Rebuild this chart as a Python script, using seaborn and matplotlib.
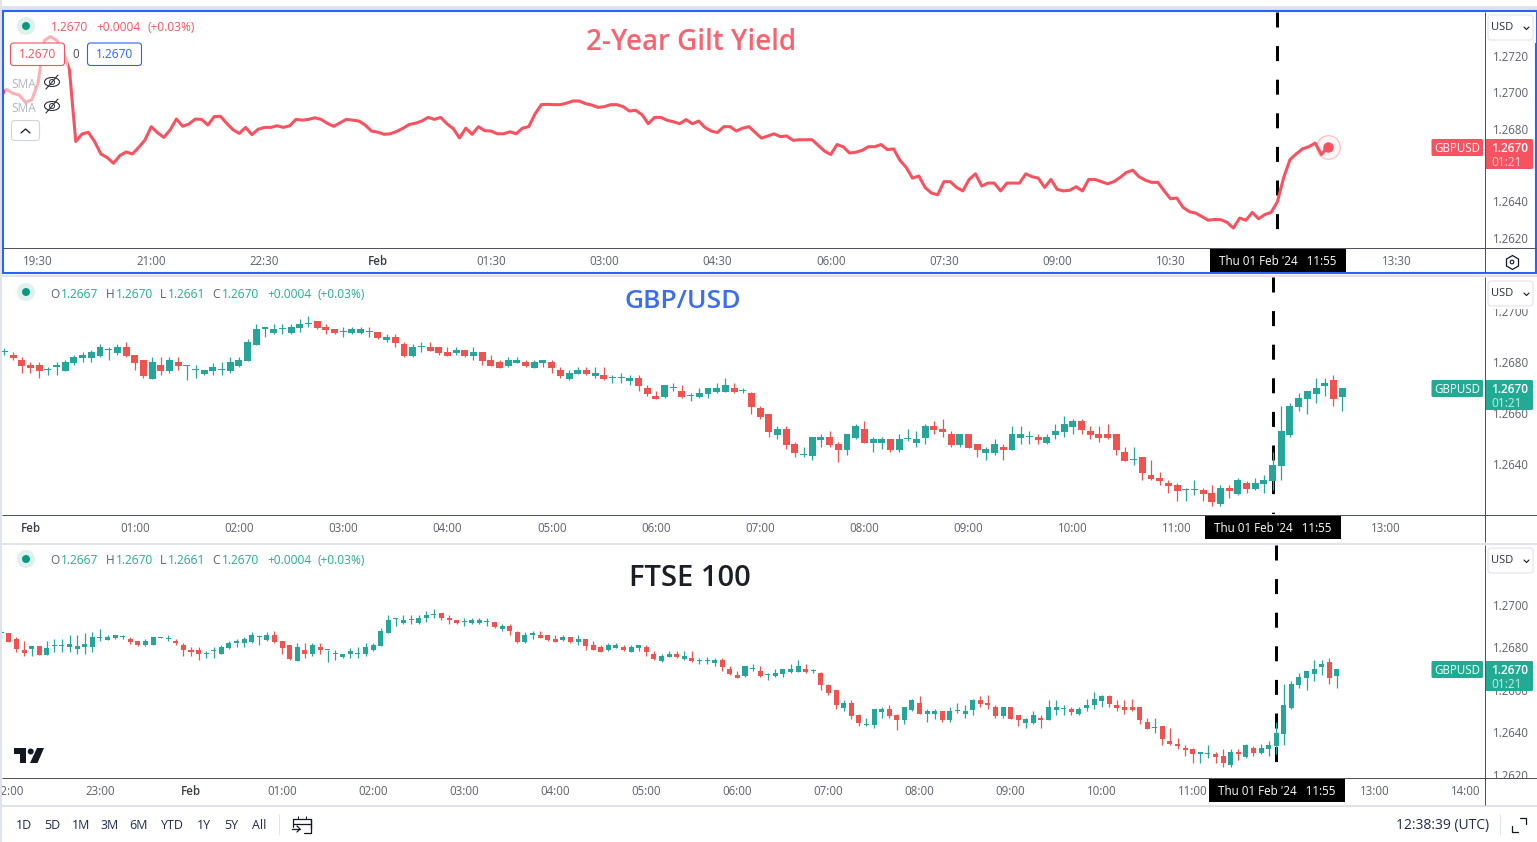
import numpy as np
import pandas as pd
import matplotlib
matplotlib.use('Agg')
import matplotlib.pyplot as plt
from matplotlib.patches import Rectangle, FancyBboxPatch, Circle, Ellipse, Polygon
import seaborn as sns

# ---- data: GBPUSD 5 min bars ----
# closes for the part of the line that has no candle on screen (19:00 - 21:50)
line_early = [1.26975, 1.27015, 1.26993, 1.26984, 1.26944, 1.26957, 1.27048, 1.27283, 1.27305,
              1.27283, 1.27222, 1.27121, 1.26729, 1.26770, 1.26779, 1.26728, 1.26660, 1.26640,
              1.26609, 1.26651, 1.26671, 1.26660, 1.26696, 1.26737, 1.26810, 1.26777, 1.26751,
              1.26792, 1.26852, 1.26812, 1.26825, 1.26852, 1.26850, 1.26819, 1.26865]

# candles 21:55 - 12:35
opens = [1.26867, 1.26867, 1.26840, 1.26788, 1.26793, 1.26806, 1.26766, 1.26806, 1.26806, 1.26802,
         1.26793, 1.26802, 1.26802, 1.26846, 1.26837, 1.26846, 1.26850, 1.26840, 1.26831, 1.26812,
         1.26812, 1.26846,
         1.26841, 1.26829, 1.26810, 1.26790, 1.26790, 1.26771, 1.26784, 1.26768, 1.26799, 1.26819,
         1.26819, 1.26827, 1.26850, 1.26837, 1.26861, 1.26829, 1.26810, 1.26737, 1.26790, 1.26768,
         1.26802, 1.26786, 1.26771, 1.26756, 1.26768, 1.26771, 1.26768, 1.26788, 1.26807, 1.26870,
         1.26933, 1.26916, 1.26931, 1.26916, 1.26937, 1.26951, 1.26963, 1.26939, 1.26931, 1.26920,
         1.26916, 1.26916, 1.26920, 1.26920, 1.26888, 1.26900, 1.26873, 1.26826, 1.26861, 1.26861,
         1.26861, 1.26841, 1.26837, 1.26849, 1.26826, 1.26841, 1.26810, 1.26802, 1.26786, 1.26798,
         1.26802, 1.26778, 1.26798, 1.26802, 1.26771, 1.26735, 1.26755, 1.26771, 1.26747, 1.26751,
         1.26738, 1.26738, 1.26727, 1.26739, 1.26700, 1.26669, 1.26665, 1.26699, 1.26688, 1.26670,
         1.26665, 1.26676, 1.26684, 1.26684, 1.26700, 1.26688, 1.26680, 1.26622, 1.26598, 1.26516,
         1.26539, 1.26480, 1.26436, 1.26433, 1.26496, 1.26508, 1.26480, 1.26457, 1.26504, 1.26539,
         1.26484, 1.26484, 1.26500, 1.26457, 1.26500, 1.26484, 1.26504, 1.26551, 1.26539, 1.26520,
         1.26476, 1.26520, 1.26480, 1.26445, 1.26445, 1.26469, 1.26457, 1.26504, 1.26508, 1.26508,
         1.26484, 1.26516, 1.26527, 1.26547, 1.26571, 1.26531, 1.26520, 1.26520, 1.26520, 1.26449,
         1.26418, 1.26429, 1.26359, 1.26347, 1.26327, 1.26320, 1.26300, 1.26299, 1.26300, 1.26288,
         1.26245, 1.26308, 1.26284, 1.26327, 1.26304, 1.26323, 1.26335, 1.26394, 1.26516, 1.26625,
         1.26657, 1.26676, 1.26708, 1.26731, 1.26665]
highs = [1.26884, 1.26867, 1.26850, 1.26829, 1.26806, 1.26806, 1.26829, 1.26840, 1.26840, 1.26859,
         1.26859, 1.26868, 1.26875, 1.26887, 1.26859, 1.26859, 1.26859, 1.26850, 1.26831, 1.26840,
         1.26850, 1.26850,
         1.26858, 1.26841, 1.26822, 1.26801, 1.26801, 1.26782, 1.26801, 1.26810, 1.26829, 1.26841,
         1.26849, 1.26873, 1.26861, 1.26873, 1.26880, 1.26829, 1.26810, 1.26822, 1.26822, 1.26822,
         1.26822, 1.26790, 1.26790, 1.26771, 1.26798, 1.26801, 1.26822, 1.26822, 1.26892, 1.26951,
         1.26939, 1.26951, 1.26951, 1.26951, 1.26971, 1.26982, 1.26963, 1.26951, 1.26931, 1.26939,
         1.26939, 1.26939, 1.26939, 1.26920, 1.26912, 1.26912, 1.26880, 1.26873, 1.26880, 1.26880,
         1.26861, 1.26861, 1.26861, 1.26849, 1.26861, 1.26841, 1.26829, 1.26810, 1.26822, 1.26822,
         1.26810, 1.26810, 1.26810, 1.26810, 1.26782, 1.26771, 1.26782, 1.26782, 1.26782, 1.26782,
         1.26751, 1.26757, 1.26751, 1.26751, 1.26712, 1.26688, 1.26712, 1.26720, 1.26712, 1.26680,
         1.26700, 1.26700, 1.26720, 1.26739, 1.26720, 1.26700, 1.26684, 1.26629, 1.26598, 1.26551,
         1.26551, 1.26488, 1.26469, 1.26508, 1.26520, 1.26531, 1.26488, 1.26520, 1.26559, 1.26571,
         1.26508, 1.26508, 1.26500, 1.26520, 1.26539, 1.26531, 1.26559, 1.26571, 1.26578, 1.26531,
         1.26520, 1.26520, 1.26480, 1.26469, 1.26500, 1.26480, 1.26551, 1.26551, 1.26531, 1.26520,
         1.26520, 1.26559, 1.26590, 1.26578, 1.26578, 1.26551, 1.26551, 1.26559, 1.26520, 1.26469,
         1.26469, 1.26429, 1.26418, 1.26371, 1.26339, 1.26327, 1.26308, 1.26339, 1.26308, 1.26320,
         1.26320, 1.26320, 1.26347, 1.26335, 1.26347, 1.26359, 1.26449, 1.26629, 1.26641, 1.26680,
         1.26688, 1.26739, 1.26739, 1.26751, 1.26700]
lows = [1.26842, 1.26828, 1.26780, 1.26761, 1.26761, 1.26766, 1.26766, 1.26780, 1.26780, 1.26780,
        1.26771, 1.26771, 1.26780, 1.26831, 1.26834, 1.26840, 1.26840, 1.26818, 1.26809, 1.26809,
        1.26812, 1.26843,
        1.26829, 1.26811, 1.26760, 1.26760, 1.26741, 1.26752, 1.26752, 1.26768, 1.26792, 1.26802,
        1.26802, 1.26822, 1.26811, 1.26829, 1.26822, 1.26771, 1.26741, 1.26737, 1.26751, 1.26760,
        1.26771, 1.26733, 1.26741, 1.26752, 1.26752, 1.26752, 1.26760, 1.26784, 1.26807, 1.26870,
        1.26901, 1.26912, 1.26912, 1.26912, 1.26920, 1.26939, 1.26931, 1.26912, 1.26912, 1.26900,
        1.26912, 1.26912, 1.26900, 1.26892, 1.26880, 1.26861, 1.26822, 1.26822, 1.26841, 1.26845,
        1.26829, 1.26826, 1.26829, 1.26822, 1.26810, 1.26790, 1.26786, 1.26778, 1.26782, 1.26798,
        1.26782, 1.26778, 1.26782, 1.26759, 1.26739, 1.26731, 1.26755, 1.26751, 1.26739, 1.26731,
        1.26720, 1.26720, 1.26712, 1.26688, 1.26669, 1.26657, 1.26661, 1.26688, 1.26661, 1.26649,
        1.26661, 1.26661, 1.26680, 1.26684, 1.26680, 1.26680, 1.26598, 1.26578, 1.26508, 1.26500,
        1.26461, 1.26429, 1.26429, 1.26418, 1.26469, 1.26469, 1.26410, 1.26437, 1.26500, 1.26484,
        1.26449, 1.26461, 1.26449, 1.26449, 1.26492, 1.26469, 1.26480, 1.26520, 1.26508, 1.26469,
        1.26469, 1.26465, 1.26429, 1.26418, 1.26437, 1.26418, 1.26457, 1.26480, 1.26480, 1.26480,
        1.26480, 1.26500, 1.26508, 1.26520, 1.26520, 1.26500, 1.26488, 1.26500, 1.26437, 1.26414,
        1.26398, 1.26339, 1.26339, 1.26320, 1.26288, 1.26257, 1.26257, 1.26280, 1.26257, 1.26237,
        1.26237, 1.26269, 1.26280, 1.26288, 1.26300, 1.26288, 1.26300, 1.26339, 1.26508, 1.26610,
        1.26598, 1.26641, 1.26669, 1.26629, 1.26610]
closes = [1.26867, 1.26828, 1.26793, 1.26773, 1.26806, 1.26766, 1.26796, 1.26806, 1.26806, 1.26815,
          1.26806, 1.26815, 1.26850, 1.26846, 1.26850, 1.26859, 1.26850, 1.26828, 1.26812, 1.26831,
          1.26850, 1.26846,
          1.26841, 1.26819, 1.26786, 1.26780, 1.26768, 1.26771, 1.26784, 1.26801, 1.26822, 1.26829,
          1.26841, 1.26861, 1.26850, 1.26861, 1.26826, 1.26799, 1.26748, 1.26802, 1.26768, 1.26810,
          1.26788, 1.26786, 1.26771, 1.26771, 1.26782, 1.26771, 1.26802, 1.26810, 1.26880, 1.26931,
          1.26933, 1.26931, 1.26931, 1.26939, 1.26951, 1.26951, 1.26937, 1.26929, 1.26916, 1.26920,
          1.26931, 1.26931, 1.26920, 1.26896, 1.26900, 1.26876, 1.26826, 1.26861, 1.26861, 1.26845,
          1.26837, 1.26826, 1.26849, 1.26826, 1.26841, 1.26806, 1.26786, 1.26778, 1.26810, 1.26810,
          1.26786, 1.26802, 1.26810, 1.26778, 1.26747, 1.26759, 1.26771, 1.26755, 1.26759, 1.26735,
          1.26738, 1.26738, 1.26739, 1.26708, 1.26676, 1.26657, 1.26712, 1.26699, 1.26665, 1.26670,
          1.26680, 1.26700, 1.26700, 1.26712, 1.26684, 1.26688, 1.26625, 1.26586, 1.26527, 1.26539,
          1.26476, 1.26445, 1.26436, 1.26508, 1.26508, 1.26476, 1.26457, 1.26520, 1.26551, 1.26484,
          1.26500, 1.26500, 1.26457, 1.26500, 1.26500, 1.26500, 1.26551, 1.26535, 1.26527, 1.26476,
          1.26520, 1.26465, 1.26457, 1.26461, 1.26480, 1.26457, 1.26520, 1.26520, 1.26508, 1.26496,
          1.26508, 1.26531, 1.26559, 1.26571, 1.26535, 1.26516, 1.26504, 1.26504, 1.26457, 1.26414,
          1.26418, 1.26367, 1.26343, 1.26335, 1.26316, 1.26296, 1.26300, 1.26299, 1.26284, 1.26253,
          1.26308, 1.26296, 1.26339, 1.26304, 1.26327, 1.26339, 1.26398, 1.26531, 1.26629, 1.26661,
          1.26688, 1.26700, 1.26720, 1.26657, 1.26700]

x_ticks_top = [-270, -180, -90, 0, 90, 180, 270, 360, 450, 540, 630, 810]
x_labels_top = ['19:30', '21:00', '22:30', 'Feb', '01:30', '03:00', '04:30', '06:00', '07:30', '09:00', '10:30', '13:30']
x_ticks_mid = [0, 60, 120, 180, 240, 300, 360, 420, 480, 540, 600, 660, 780]
x_labels_mid = ['Feb', '01:00', '02:00', '03:00', '04:00', '05:00', '06:00', '07:00', '08:00', '09:00', '10:00', '11:00', '13:00']
x_ticks_low = [-120, -60, 0, 60, 120, 180, 240, 300, 360, 420, 480, 540, 600, 660, 780, 840]
x_labels_low = ['22:00', '23:00', 'Feb', '01:00', '02:00', '03:00', '04:00', '05:00', '06:00', '07:00', '08:00', '09:00', '10:00', '11:00', '13:00', '14:00']
y_ticks_top = [1.2620, 1.2640, 1.2680, 1.2700, 1.2720]
y_ticks_mid = [1.2640, 1.2660, 1.2680, 1.2700]
y_ticks_low = [1.2620, 1.2640, 1.2660, 1.2680, 1.2700]
range_buttons = ['1D', '5D', '1M', '3M', '6M', 'YTD', '1Y', '5Y', 'All']

event_time = 715  # 11:55

GREEN = '#26a69a'
RED = '#ef5350'
LINE_RED = '#f7525f'
LABEL_GREEN = '#22ab94'
BLUE = '#2962ff'
GREY = '#5d606b'
DARK = '#131722'
SEP = '#e0e3eb'

sns.set_theme(style='white')
plt.rcParams['font.family'] = ['Open Sans', 'DejaVu Sans']
plt.rcParams['axes.unicode_minus'] = False

W, H = 1537, 842
fig = plt.figure(figsize=(W / 100, H / 100), dpi=100, facecolor='white')

candles = pd.DataFrame({'open': opens, 'high': highs, 'low': lows, 'close': closes})
candles['minute'] = -125 + 5 * np.arange(len(candles))

line_df = pd.DataFrame({'price': line_early + closes})
line_df['minute'] = -300 + 5 * np.arange(len(line_df))


def make_panel(left, top, right, bottom, x0_px, px_per_min, y_ref_px, px_per_unit, xticks, xlabels, yticks):
    ax = fig.add_axes([left / W, 1 - bottom / H, (right - left) / W, (bottom - top) / H])
    ax.set_xlim((left - x0_px) / px_per_min, (right - x0_px) / px_per_min)
    ax.set_ylim(1.2680 + (y_ref_px - bottom) / px_per_unit, 1.2680 + (y_ref_px - top) / px_per_unit)
    ax.set_xticks(xticks)
    ax.set_xticklabels(xlabels)
    ax.yaxis.tick_right()
    ax.set_yticks(yticks)
    ax.set_yticklabels([f'{v:.4f}' for v in yticks])
    ax.tick_params(axis='x', length=0, pad=5.8, labelsize=8.3, colors=GREY)
    ax.tick_params(axis='y', length=0, pad=6.5, labelsize=8.3, colors=GREY)
    for lab in ax.get_xticklabels():
        if lab.get_text() == 'Feb':
            lab.set_color('#3a3d48')
            lab.set_fontweight('semibold')
    for s in ax.spines.values():
        s.set_visible(False)
    ax.set_xlabel('')
    ax.set_ylabel('')
    ax.set_facecolor('white')
    return ax


def event_line(ax):
    lims = ax.get_ylim()
    ax.plot([event_time, event_time], [lims[1], lims[0]], color='black', lw=2.16,
            linestyle=(0, (15 / 3, 18.6 / 3)), dash_capstyle='butt', zorder=1)


def draw_candles(ax, df, body_width, px_per_unit):
    colors = np.where(df['close'] >= df['open'], GREEN, RED)
    ax.vlines(df['minute'], df['low'], df['high'], colors=colors, lw=0.9, zorder=2)
    height = np.maximum((df['close'] - df['open']).abs(), 1.1 / px_per_unit)
    bottom = df[['open', 'close']].min(axis=1)
    ax.bar(df['minute'], height, bottom=bottom, width=body_width, color=colors, linewidth=0, zorder=3)


# panel 1 - line
ax1 = make_panel(4, 12, 1484, 247, 377.75, 1.2583, 128.5, 18200, x_ticks_top, x_labels_top, y_ticks_top)
event_line(ax1)
sns.lineplot(data=line_df, x='minute', y='price', ax=ax1, color=LINE_RED, lw=2.2, zorder=3,
             estimator=None, errorbar=None)
ax1.set_xlabel('')
ax1.set_ylabel('')
ax1.plot(line_df['minute'].iloc[-1], line_df['price'].iloc[-1], marker='o', ms=17, mfc='#fff5f6',
         mec='#fbb9bf', mew=0.8, zorder=2.5)
ax1.plot(line_df['minute'].iloc[-1], line_df['price'].iloc[-1], marker='o', ms=6.5, color=LINE_RED, zorder=4)

# panel 2 - candles from 23:45
ax2 = make_panel(2, 277, 1484, 514, 30.5, 1.7372, 362.5, 25500, x_ticks_mid, x_labels_mid, y_ticks_mid)
event_line(ax2)
draw_candles(ax2, candles.iloc[22:], 4.0, 25500)

# panel 3 - candles, wider window
ax3 = make_panel(2, 545, 1484, 777, 191, 1.5178, 647.5, 21200, x_ticks_low, x_labels_low, y_ticks_low)
event_line(ax3)
draw_candles(ax3, candles, 3.3, 21200)

# ---- overlay in pixel coordinates for the platform furniture ----
ov = fig.add_axes([0, 0, 1, 1], zorder=10)
ov.set_xlim(0, W)
ov.set_ylim(H, 0)
ov.axis('off')
ov.patch.set_alpha(0)


def rect(x0, y0, x1, y1, color, **kw):
    ov.add_patch(Rectangle((x0, y0), x1 - x0, y1 - y0, facecolor=color, edgecolor='none', **kw))


def rbox(x0, y0, x1, y1, fc='white', ec=SEP, lw=0.8, r=3):
    ov.add_patch(FancyBboxPatch((x0 + r, y0 + r), x1 - x0 - 2 * r, y1 - y0 - 2 * r,
                                boxstyle=f'round,pad={r},rounding_size={r}', fc=fc, ec=ec, lw=lw))


def txt(x, y, s, color=GREY, size=8.3, ha='left', **kw):
    # open sans sits a bit high with va=center
    ov.text(x, y + 1.5, s, color=color, fontsize=size, ha=ha, va='center', **kw)


def hline(y, x0, x1, color, lw=0.72):
    ov.plot([x0, x1], [y, y], color=color, lw=lw, solid_capstyle='butt')


def vline(x, y0, y1, color, lw=0.72):
    ov.plot([x, x], [y0, y1], color=color, lw=lw, solid_capstyle='butt')


# page background strips
rect(0, 6, W, 10, SEP)
rect(0, 0, 2, H, SEP)
rect(1485, 778, W, 805, 'white')
rect(1485, 515, W, 543, 'white')
rect(0, 274.5, W, 277, SEP)
rect(0, 542.5, W, 544.5, SEP)
rect(0, 805, W, 806.5, SEP)

# faded line under the legend block
rect(5, 13, 68, 142, 'white', alpha=0.55)

# axis frames
hline(247.5, 3, 1536, '#50535e')
hline(514.5, 2, W, '#50535e')
hline(777.5, 2, W, '#50535e')
vline(1484.5, 12, 273, '#50535e')
vline(1484.5, 277, 542, '#50535e')
vline(1484.5, 545, 805, '#50535e')

# blue border of the active pane
ov.add_patch(Rectangle((3, 11), 1533, 262, fc='none', ec=BLUE, lw=1.5))

# titles
txt(691, 41.5, '2-Year Gilt Yield', color='#f9636f', size=20, ha='center', fontweight='semibold')
txt(683, 300.5, 'GBP/USD', color='#3a6df0', size=19, ha='center', fontweight='semibold')
txt(690, 577, 'FTSE 100', color='#1b1e27', size=21, ha='center', fontweight='semibold')


def status_dot(y):
    ov.add_patch(Circle((26, y), 9, fc='#dff1ed', ec='none'))
    ov.add_patch(Circle((26, y), 4, fc='#089981', ec='none'))


# legend pane 1
status_dot(26)
txt(51, 26, '1.2670', color=LINE_RED, size=8.6)
txt(96.5, 26, '+0.0004', color=LINE_RED, size=8.6)
txt(147, 26, '(+0.03%)', color=LINE_RED, size=8.6)
rbox(10.5, 43, 64.5, 65.5, ec=LINE_RED)
txt(37.5, 53.5, '1.2670', color=LINE_RED, size=8.6, ha='center')
txt(76, 53, '0', color='#434651', size=8.3, ha='center')
rbox(87.5, 43, 141.5, 65.5, ec=BLUE)
txt(114.5, 53.5, '1.2670', color=BLUE, size=8.6, ha='center')
for yy in (83, 107):
    txt(11, yy - 0.5, 'SMA', color='#b2b5be', size=8.6)
    ov.add_patch(Ellipse((52, yy - 1), 15, 9, fc='none', ec='#2a2e39', lw=0.8))
    ov.add_patch(Circle((52, yy - 1), 2.5, fc='none', ec='#2a2e39', lw=0.7))
    ov.plot([46, 58], [yy + 6, yy - 8], color='#2a2e39', lw=0.8)
rbox(11.5, 120.5, 39.5, 140.5, ec='#d1d4dc')
ov.plot([21, 25.5, 30], [133, 129, 133], color='#131722', lw=0.9)


# OHLC legends of the candle panes
def ohlc_legend(y):
    status_dot(y - 0.5)
    for x, s in [(50.5, 'O'), (106, 'H'), (160, 'L'), (212.5, 'C')]:
        txt(x, y, s, color=GREY, size=8.6)
    for x, s in [(61, '1.2667'), (116, '1.2670'), (168, '1.2661'), (222, '1.2670'), (267, '+0.0004'), (317, '(+0.03%)')]:
        txt(x, y, s, color=LABEL_GREEN, size=8.6)


ohlc_legend(292.5)
ohlc_legend(559.5)


# last price labels
def price_tag(y, color):
    rbox(1431.5, y, 1483, y + 17, fc=color, ec='none', r=1.5)
    txt(1457, y + 8, 'GBPUSD', color='white', size=8.3, ha='center', fontweight='medium')
    rbox(1485, y, 1533, y + 30, fc=color, ec='none', r=1.5)
    txt(1510, y + 8, '1.2670', color='white', size=8.6, ha='center', fontweight='semibold')
    txt(1507, y + 22, '01:21', color='white', size=8.6, ha='center', alpha=0.75)


price_tag(139, LINE_RED)
price_tag(380, LABEL_GREEN)
price_tag(661, LABEL_GREEN)


# currency selector
def usd_box(y):
    rect(1486, y - 3, 1536, y + 28, 'white')
    rbox(1488, y, 1533, y + 25)
    txt(1491.5, y + 11, 'USD', color='#2a2e39', size=8)
    ov.plot([1524, 1526.5, 1529], [y + 12, y + 14.5, y + 12], color='#131722', lw=0.8)


usd_box(15)
usd_box(281)
usd_box(548)


# crosshair time labels
def time_tag(x0, y0):
    rect(x0, y0, x0 + 136, y0 + 24, 'black')
    txt(x0 + 68, y0 + 12, "Thu 01 Feb '24   11:55", color='white', size=8.4, ha='center', fontweight='medium')


time_tag(1210, 248)
time_tag(1205, 515)
time_tag(1209, 778)

# settings gear
ov.plot(1512, 262, marker='h', ms=10, mfc='none', mec='#131722', mew=0.9)
ov.add_patch(Circle((1512, 262), 1.8, fc='none', ec='#131722', lw=0.8))

# logo
logo = '#131722'
ov.add_patch(Polygon([(14, 748), (26, 748), (26, 763), (19.5, 763), (19.5, 754), (14, 754)], fc=logo, ec='none'))
ov.add_patch(Circle((30.7, 751.5), 3, fc=logo, ec='none'))
ov.add_patch(Polygon([(37, 748), (44, 748), (37.5, 763), (30, 763)], fc=logo, ec='none'))

# bottom toolbar
for cx, s in zip([24, 52, 81, 110, 139, 172, 204, 231, 259], range_buttons):
    txt(cx, 824, s, color='#1e2a4a', size=9, ha='center')
vline(278.5, 814, 835, SEP)
ov.plot([311, 311, 293, 293], [829, 819, 819, 827], color=DARK, lw=0.9)
hline(823.5, 293, 311, DARK, lw=0.9)
ov.plot([311, 311, 304], [819, 832.5, 832.5], color=DARK, lw=0.9)
vline(298, 816, 819, DARK)
vline(306, 816, 819, DARK)
ov.plot([292, 300], [829, 829], color=DARK, lw=0.9)
ov.plot([297, 300, 297], [826, 829, 832], color=DARK, lw=0.9)
txt(1489, 824, '12:38:39 (UTC)', color='#1e2a4a', size=10, ha='right')
vline(1500, 814, 835, SEP)
ov.plot([1512, 1512, 1518], [826, 832, 832], color=DARK, lw=0.9)
ov.plot([1520, 1526, 1526], [818, 818, 824], color=DARK, lw=0.9)

fig.savefig('out.png', dpi=100)
plt.close(fig)
